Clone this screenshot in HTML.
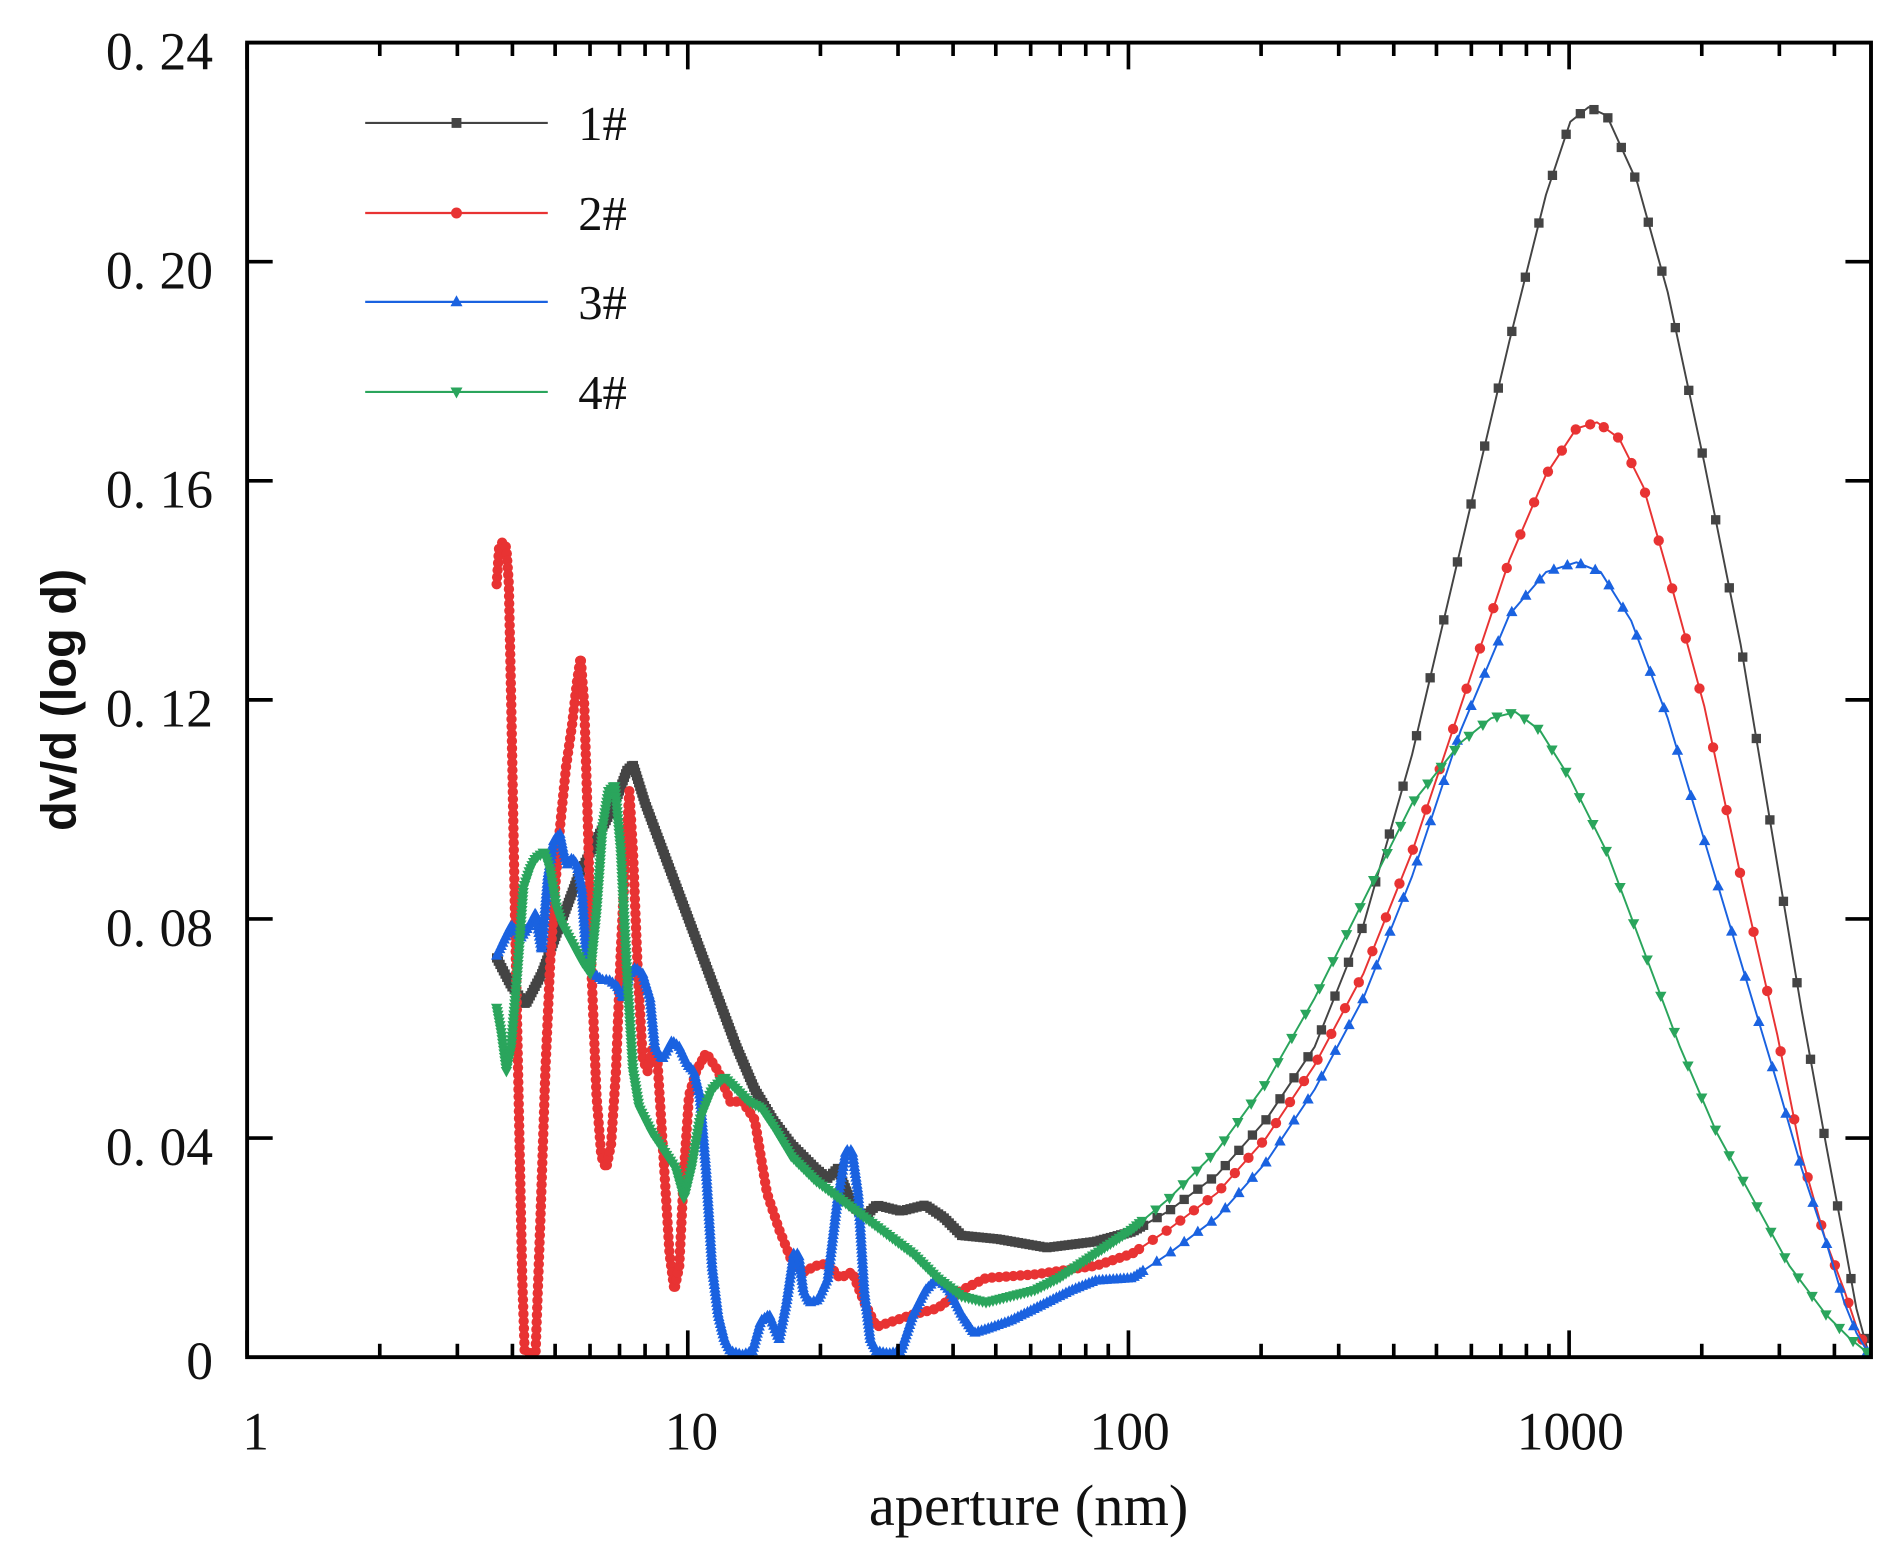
<!DOCTYPE html>
<html><head><meta charset="utf-8"><style>
html,body{margin:0;padding:0;background:#fff;}
svg{display:block;}
</style></head><body>
<svg id="s" width="1899" height="1558" viewBox="0 0 1560 1280" preserveAspectRatio="none" xmlns="http://www.w3.org/2000/svg">
<rect width="1560" height="1280" fill="#fff"/>
<g id="data"></g>
<g id="axes" stroke="#000" fill="none"></g>
<rect x="203" y="35" width="1334" height="1080" fill="none" stroke="#000" stroke-width="3.2"/>
<g font-family="'Liberation Serif',serif" font-size="44" fill="#111" text-anchor="end">
<text x="175" y="57">0. 24</text>
<text x="175" y="237">0. 20</text>
<text x="175" y="417">0. 16</text>
<text x="175" y="597">0. 12</text>
<text x="175" y="777">0. 08</text>
<text x="175" y="957">0. 04</text>
<text x="175" y="1133">0</text>
</g>
<g font-family="'Liberation Serif',serif" font-size="44" fill="#111" text-anchor="middle">
<text x="210" y="1191">1</text>
<text x="568" y="1191">10</text>
<text x="928" y="1191">100</text>
<text x="1290" y="1191">1000</text>
<text x="845" y="1253" font-size="48">aperture (nm)</text>
</g>
<text transform="translate(62,575) rotate(-90)" font-family="'Liberation Sans',sans-serif" font-weight="bold" font-size="40" text-anchor="middle" fill="#111">dv/d (log d)</text>
<g id="legend"></g>
</svg>
<script>
const NS="http://www.w3.org/2000/svg";
function el(t,a,p){const e=document.createElementNS(NS,t);for(const k in a)e.setAttribute(k,a[k]);p.appendChild(e);return e;}
const axes=document.getElementById('axes');
for(let i=1;i<6;i++){const y=1115-i*180;
 el('line',{x1:203,y1:y,x2:224,y2:y,'stroke-width':3},axes);
 el('line',{x1:1537,y1:y,x2:1516,y2:y,'stroke-width':3},axes);}
const L=203,D=362;
for(let dec=0;dec<4;dec++){for(let m=1;m<10;m++){const v=dec+Math.log10(m);const x=L+v*D;if(x>1535)continue;
 const len=m==1?22:11;
 el('line',{x1:x,y1:1115,x2:x,y2:1115-len,'stroke-width':3},axes);
 el('line',{x1:x,y1:35,x2:x,y2:35+len,'stroke-width':3},axes);}}
function marker(type,x,y,c,g,sz){
 if(type=='sq')el('rect',{x:x-sz*0.45,y:y-sz*0.45,width:sz*0.9,height:sz*0.9,fill:c},g);
 else if(type=='ci')el('circle',{cx:x,cy:y,r:sz*0.5,fill:c},g);
 else if(type=='up')el('polygon',{points:`${x},${y-sz*0.6} ${x-sz*0.55},${y+sz*0.4} ${x+sz*0.55},${y+sz*0.4}`,fill:c},g);
 else el('polygon',{points:`${x},${y+sz*0.6} ${x-sz*0.55},${y-sz*0.4} ${x+sz*0.55},${y-sz*0.4}`,fill:c},g);}
const S={
k:{c:'#444',t:'sq',p:[[408,787],[420,810],[432,825],[445,800],[460,760],[475,720],[490,690],[505,660],[515,633],[520,628],[530,660],[545,700],[560,740],[575,780],[590,820],[605,860],[620,895],[635,920],[650,940],[670,960],[680,968],[688,960],[694,975],[700,990],[710,1000],[720,990],[740,995],[760,990],[775,1000],[790,1015],[820,1018],[860,1025],[900,1020],[930,1012],[960,995],[1000,965],[1040,920],[1080,860],[1120,760],[1160,620],[1200,450],[1240,280],[1270,160],[1290,100],[1305,88],[1320,95],[1345,150],[1370,240],[1400,380],[1430,530],[1460,710],[1480,830],[1500,940],[1515,1020],[1525,1075],[1535,1112]]},
r:{c:'#e83333',t:'ci',p:[[408,480],[410,450],[413,445],[416,450],[418,480],[420,580],[423,750],[426,900],[429,1050],[431,1110],[436,1112],[440,1110],[444,1000],[448,880],[452,790],[456,730],[460,680],[465,630],[470,595],[474,560],[477,540],[480,580],[483,680],[486,800],[490,900],[494,950],[498,960],[502,940],[506,880],[510,780],[514,700],[517,650],[520,700],[524,800],[528,870],[532,880],[536,860],[540,870],[545,950],[550,1030],[554,1060],[558,1040],[562,960],[566,900],[572,880],[580,865],[590,880],[600,905],[610,905],[620,920],[625,950],[630,980],[640,1010],[650,1035],[660,1045],[670,1040],[680,1038],[690,1050],[700,1045],[710,1070],[720,1090],[735,1085],[750,1080],[770,1075],[790,1060],[810,1050],[850,1047],[900,1040],[930,1030],[960,1010],[1000,980],[1040,935],[1080,875],[1120,800],[1160,700],[1200,580],[1240,460],[1270,390],[1295,352],[1312,347],[1330,360],[1350,400],[1370,470],[1400,580],[1430,720],[1460,850],[1480,950],[1500,1020],[1515,1060],[1525,1090],[1535,1112]]},
b:{c:'#1a62e0',t:'up',p:[[408,785],[415,770],[420,760],[428,770],[435,760],[440,750],[445,780],[450,720],[455,690],[460,685],[463,700],[466,710],[470,705],[474,710],[478,730],[482,790],[488,800],[495,805],[500,805],[507,810],[512,820],[517,800],[522,795],[528,800],[534,820],[538,860],[544,870],[552,855],[558,860],[565,875],[570,880],[575,900],[580,960],[585,1040],[590,1080],[595,1100],[600,1110],[610,1113],[618,1110],[625,1085],[632,1080],[636,1090],[640,1100],[646,1070],[652,1030],[656,1030],[660,1060],[665,1070],[672,1068],[680,1050],[688,985],[695,945],[700,945],[705,980],[710,1060],[715,1100],[720,1110],[730,1112],[740,1110],[750,1080],[760,1060],[770,1050],[780,1060],[790,1080],[800,1095],[810,1092],[830,1085],[860,1070],[880,1060],[900,1052],[930,1050],[960,1030],[1000,1000],[1040,955],[1080,895],[1120,820],[1160,720],[1200,600],[1240,505],[1270,470],[1295,462],[1315,470],[1340,510],[1370,590],[1400,690],[1430,790],[1460,890],[1480,960],[1500,1020],[1515,1070],[1525,1095],[1535,1112]]},
g:{c:'#2aa55c',t:'dn',p:[[408,828],[412,850],[416,880],[420,860],[425,800],[430,730],[435,715],[440,705],[447,700],[452,715],[457,745],[462,760],[470,775],[478,790],[485,800],[490,750],[495,680],[500,650],[505,645],[510,700],[515,800],[520,880],[525,910],[535,930],[545,945],[555,960],[562,985],[568,960],[575,920],[585,895],[595,885],[605,895],[615,905],[625,910],[635,925],[650,950],[670,970],[690,985],[710,1000],[730,1015],[750,1030],[770,1050],[790,1065],[810,1070],[830,1065],[850,1060],[870,1050],[900,1030],[930,1010],[960,985],[1000,945],[1040,890],[1080,820],[1120,740],[1160,660],[1200,610],[1225,590],[1245,585],[1265,600],[1290,640],[1320,700],[1350,780],[1380,860],[1410,930],[1440,985],[1470,1040],[1500,1080],[1520,1100],[1535,1112]]}};
const data=document.getElementById('data');
const MS=8.5;
for(const k of ['k','r','b','g']){const s=S[k];const g=el('g',{},data);
 el('polyline',{points:s.p.map(p=>p.join(',')).join(' '),fill:'none',stroke:s.c,'stroke-width':1.6,'stroke-linejoin':'round'},g);
 let acc=0,lastX=-1e9;const P=s.p;
 marker(s.t,P[0][0],P[0][1],s.c,g,MS);
 for(let i=1;i<P.length;i++){const [x0,y0]=P[i-1],[x1,y1]=P[i];const len=Math.hypot(x1-x0,y1-y0);const n=Math.max(1,Math.ceil(len/1));
  for(let j=1;j<=n;j++){const t=j/n,x=x0+(x1-x0)*t,y=y0+(y1-y0)*t;acc+=len/n;
   if(x<940){ if(acc>=(k=='r'?5:2.5)){acc=0;lastX=x;marker(s.t,x,y,s.c,g,MS);} }
   else { if(x-lastX>=11){lastX=x;acc=0;marker(s.t,x,y,s.c,g,MS);} }
  }}
}
const lg=document.getElementById('legend');
[['1#','k',101],['2#','r',175],['3#','b',248],['4#','g',322]].forEach(([t,k,y])=>{const s=S[k];
 el('line',{x1:300,y1:y,x2:450,y2:y,stroke:s.c,'stroke-width':1.8},lg);
 marker(s.t,375,y,s.c,lg,9);
 const tx=el('text',{x:475,y:y+14,'font-family':"'Liberation Serif',serif",'font-size':40,fill:'#111'},lg);tx.textContent=t;});
</script>
</body></html>
